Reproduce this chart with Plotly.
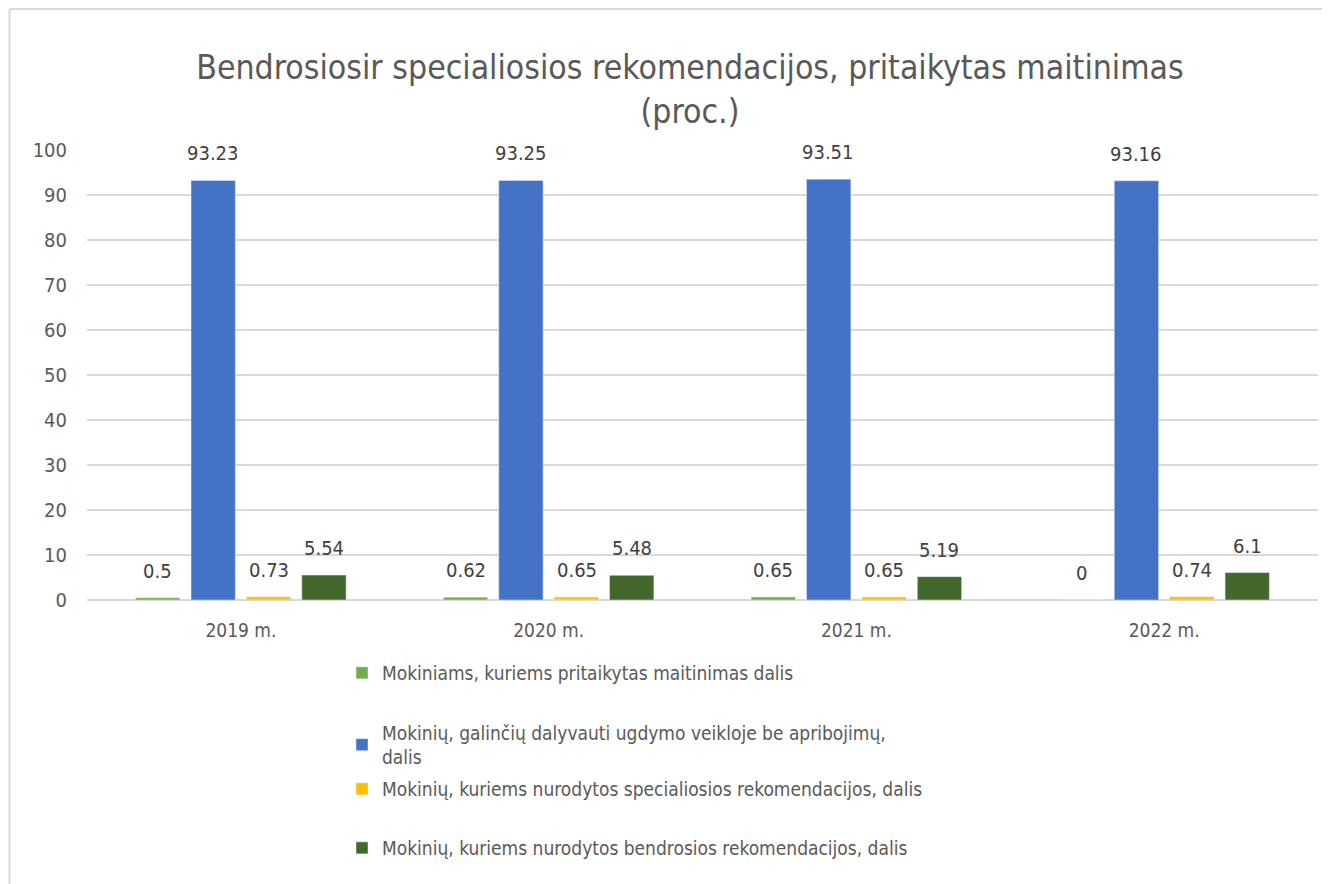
import plotly.graph_objects as go

categories = ["2019 m.", "2020 m.", "2021 m.", "2022 m."]
series_names = [
    "Mokiniams, kuriems pritaikytas maitinimas dalis",
    "Mokinių, galinčių dalyvauti ugdymo veikloje be apribojimų,<br>dalis",
    "Mokinių, kuriems nurodytos specialiosios rekomendacijos, dalis",
    "Mokinių, kuriems nurodytos bendrosios rekomendacijos, dalis",
]
maitinimas = [0.5, 0.62, 0.65, 0]
be_apribojimu = [93.23, 93.25, 93.51, 93.16]
specialiosios = [0.73, 0.65, 0.65, 0.74]
bendrosios = [5.54, 5.48, 5.19, 6.1]
y_ticks = list(range(0, 101, 10))

series_values = [maitinimas, be_apribojimu, specialiosios, bendrosios]
colors = ["#70AD47", "#4472C4", "#FFC000", "#43682B"]
FONT = "Liberation Sans Narrow, DejaVu Sans Condensed, Arial Narrow, sans-serif"
TXT = "#595959"

# the page adds an 8px body margin, so figure coords = screenshot coords - 8
W, H = 1330, 884
ML, MR, MT, MB = 79, 20, 142, 292
PW = W - ML - MR
PH = H - MT - MB

def px2x(px):
    return (px - ML) / PW

def py2y(py):
    return (H - MB - py) / PH

fig = go.Figure()
legend_names = ["legend", "legend2", "legend3", "legend4"]
for name, vals, col, lg in zip(series_names, series_values, colors, legend_names):
    fig.add_trace(go.Bar(x=categories, y=vals, name=name, marker_color=col,
                         legend=lg, showlegend=True, hoverinfo="x+y"))

offsets = [-83, -28, 28, 83]
annotations = []
for vals, off in zip(series_values, offsets):
    for c, v in zip(categories, vals):
        annotations.append(dict(x=c, y=v, xref="x", yref="y", text=f"{v:g}",
                                showarrow=False, xshift=off, yshift=13,
                                yanchor="bottom",
                                font=dict(family=FONT, size=20, color="#404040")))

legend_y_px = [665, 737, 781, 840]
legend_layouts = {}
for lg, ypx in zip(legend_names, legend_y_px):
    legend_layouts[lg] = dict(x=px2x(334), y=py2y(ypx), xanchor="left", yanchor="middle",
                              orientation="v", bgcolor="rgba(0,0,0,0)",
                              font=dict(family=FONT, size=19, color=TXT))

fig.update_layout(
    width=W, height=H,
    showlegend=True,
    margin=dict(l=ML, r=MR, t=MT, b=MB),
    paper_bgcolor="white", plot_bgcolor="white",
    title=dict(text="Bendrosiosir specialiosios rekomendacijos, pritaikytas maitinimas<br>(proc.)",
               x=682 / W, xanchor="center", y=1 - 71 / H, yanchor="middle",
               font=dict(family=FONT, size=33.5, color=TXT)),
    barmode="group", bargap=0.28, bargroupgap=0.2,
    annotations=annotations,
    xaxis=dict(tickfont=dict(family=FONT, size=19, color=TXT), showgrid=False,
               showline=False, ticks="", ticklabelstandoff=17),
    yaxis=dict(range=[0, 100], tickvals=y_ticks, showgrid=True, gridcolor="#D9D9D9",
               gridwidth=2, zeroline=True, zerolinecolor="#D9D9D9", zerolinewidth=2,
               tickfont=dict(family=FONT, size=20, color=TXT), ticks="",
               ticklabelstandoff=19),
    shapes=[
        dict(type="line", xref="paper", yref="paper",
             x0=px2x(1.5), x1=px2x(1.5), y0=py2y(1), y1=py2y(H + 10),
             line=dict(color="#D9D9D9", width=2), layer="below"),
        dict(type="line", xref="paper", yref="paper",
             x0=px2x(1.5), x1=px2x(W + 10), y0=py2y(1), y1=py2y(1),
             line=dict(color="#D9D9D9", width=2), layer="below"),
    ],
    **legend_layouts,
)

fig.write_html("out.html")
